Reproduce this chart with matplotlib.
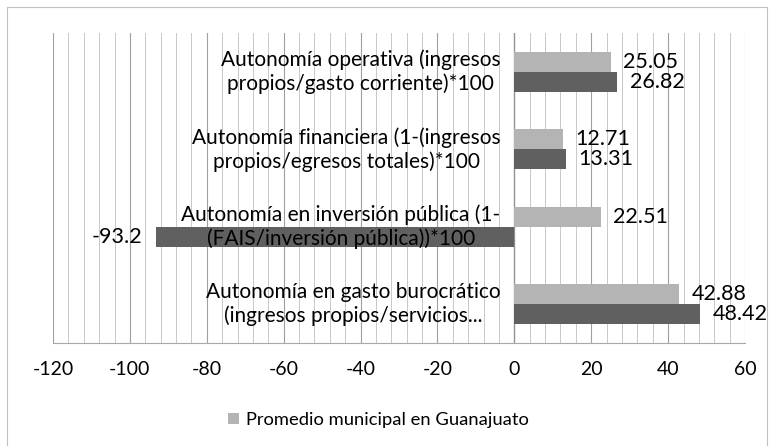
import numpy as np
import matplotlib.pyplot as plt
import matplotlib.patches as mpatches
from matplotlib.ticker import MultipleLocator

plt.rcParams['font.family'] = ['Lato', 'DejaVu Sans']

categories = [
    "Autonomía operativa (ingresos\npropios/gasto corriente)*100",
    "Autonomía financiera (1-(ingresos\npropios/egresos totales)*100",
    "Autonomía en inversión pública (1-\n(FAIS/inversión pública))*100",
    "Autonomía en gasto burocrático\n(ingresos propios/servicios...",
]
promedio = [25.05, 12.71, 22.51, 42.88]
municipio = [26.82, 13.31, -93.2, 48.42]
xticks = [-120, -100, -80, -60, -40, -20, 0, 20, 40, 60]

light = '#b4b4b4'
dark = '#606060'

fig = plt.figure(figsize=(7.73, 4.46), dpi=100)
ax = fig.add_axes([0.0686, 0.2309, 0.8952, 0.695])

y = np.arange(len(categories))
h = 0.26
ax.barh(y - h / 2, promedio, height=h, color=light, zorder=3,
        label='Promedio municipal en Guanajuato')
ax.barh(y + h / 2, municipio, height=h, color=dark, zorder=3)

# value labels
for ys, vals in [(y - h / 2, promedio), (y + h / 2, municipio)]:
    for yi, v in zip(ys, vals):
        ax.annotate(f'{v:g}', (v, yi),
                    xytext=(9 if v >= 0 else -10, 0), textcoords='offset points',
                    ha='left' if v >= 0 else 'right', va='center', fontsize=15.5)

# category labels sit inside the plot, left of zero
for yi, lab in zip(y, categories):
    ax.annotate(lab, (0, yi), xytext=(-10, 0), textcoords='offset points',
                ha='right', va='center', multialignment='center',
                fontsize=15, linespacing=1.2, zorder=4)

ax.set_xlim(-120, 60)
ax.set_ylim(3.5, -0.5)
ax.set_xticks(xticks)
ax.set_xticklabels([str(t) for t in xticks], fontsize=14)
ax.xaxis.set_minor_locator(MultipleLocator(4))
ax.set_yticks([])
ax.tick_params(axis='x', which='both', length=0, pad=13)
ax.grid(axis='x', which='major', color='#a0a0a0', linewidth=0.8, zorder=0)
ax.grid(axis='x', which='minor', color='#c8c8c8', linewidth=0.7, zorder=0)
ax.axvline(0, color='#909090', linewidth=0.9, zorder=2)
for s in ['top', 'right', 'left']:
    ax.spines[s].set_visible(False)
ax.spines['bottom'].set_color('#a8a8a8')
ax.spines['bottom'].set_linewidth(0.8)

fig.legend(loc='center', bbox_to_anchor=(0.49, 0.058), frameon=False,
           fontsize=13.2, handlelength=0.6, handleheight=0.6, handletextpad=0.4)

fig.patches.append(mpatches.Rectangle((7 / 773, -0.05), 760 / 773, 1.05 - 7 / 446,
                                      transform=fig.transFigure, fill=False,
                                      edgecolor='#c0c0c0', linewidth=0.8))

fig.savefig('out.png', dpi=100)
